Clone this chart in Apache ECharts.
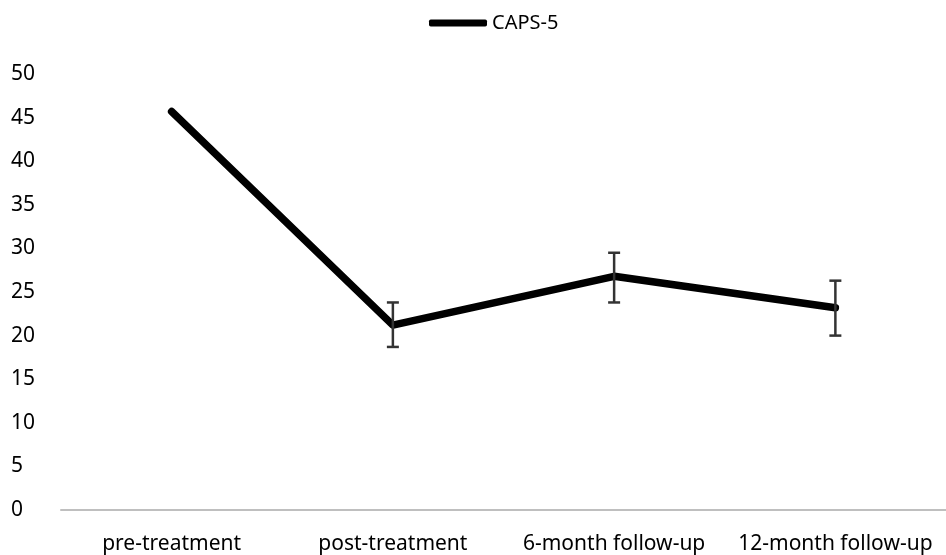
<!DOCTYPE html>
<html><head><meta charset="utf-8">
<script src="https://cdn.jsdelivr.net/npm/echarts@6/dist/echarts.min.js"></script>
<style>html,body{margin:0;padding:0;background:#fff}#c{width:946px;height:555px}</style>
</head><body><div id="c"></div>
<script>
var categories = ['pre-treatment', 'post-treatment', '6-month follow-up', '12-month follow-up'];
var caps5 = [45.7, 21.2, 26.8, 23.2];
var errUpper = [null, 23.8, 29.5, 26.3];
var errLower = [null, 18.7, 23.8, 20.0];
var yTicks = [0, 5, 10, 15, 20, 25, 30, 35, 40, 45, 50];

var errData = [];
for (var i = 0; i < categories.length; i++) {
  if (errUpper[i] != null) errData.push([i, errLower[i], errUpper[i]]);
}
var font = 'Noto Sans';
var chart = echarts.init(document.getElementById('c'));
chart.setOption({
  animation: false,
  textStyle: {fontFamily: font},
  legend: {
    top: 8, left: 424,
    data: [{name: 'CAPS-5', icon: 'roundRect'}],
    itemWidth: 58, itemHeight: 7, itemGap: 4,
    textStyle: {fontSize: 20, color: '#000', fontFamily: font}
  },
  grid: {left: 61, right: -6, top: 74, bottom: 45},
  xAxis: {
    type: 'category', data: categories, boundaryGap: true,
    axisLine: {lineStyle: {color: '#bfbfbf', width: 2}},
    axisTick: {show: false},
    axisLabel: {fontSize: 21, color: '#000', margin: 24, interval: 0, fontFamily: font}
  },
  yAxis: {
    type: 'value', min: yTicks[0], max: yTicks[yTicks.length - 1], interval: 5,
    splitLine: {show: false}, axisLine: {show: false}, axisTick: {show: false},
    axisLabel: {fontSize: 21, color: '#000', align: 'left', margin: 50, fontFamily: font}
  },
  series: [
    {
      name: 'CAPS-5', type: 'line', data: caps5, symbol: 'none',
      lineStyle: {color: '#000', width: 7.5, cap: 'round', join: 'round'},
      itemStyle: {color: '#000'}, z: 3
    },
    {
      name: 'err', type: 'custom', data: errData, z: 4,
      renderItem: function (params, api) {
        var x = api.value(0);
        var lo = api.coord([x, api.value(1)]);
        var hi = api.coord([x, api.value(2)]);
        var hw = 6;
        var st = {stroke: '#333', lineWidth: 2.5, fill: null};
        return {type: 'group', children: [
          {type: 'line', shape: {x1: lo[0], y1: lo[1], x2: hi[0], y2: hi[1]}, style: st},
          {type: 'line', shape: {x1: lo[0] - hw, y1: lo[1], x2: lo[0] + hw, y2: lo[1]}, style: st},
          {type: 'line', shape: {x1: hi[0] - hw, y1: hi[1], x2: hi[0] + hw, y2: hi[1]}, style: st}
        ]};
      }
    }
  ]
});
</script></body></html>
